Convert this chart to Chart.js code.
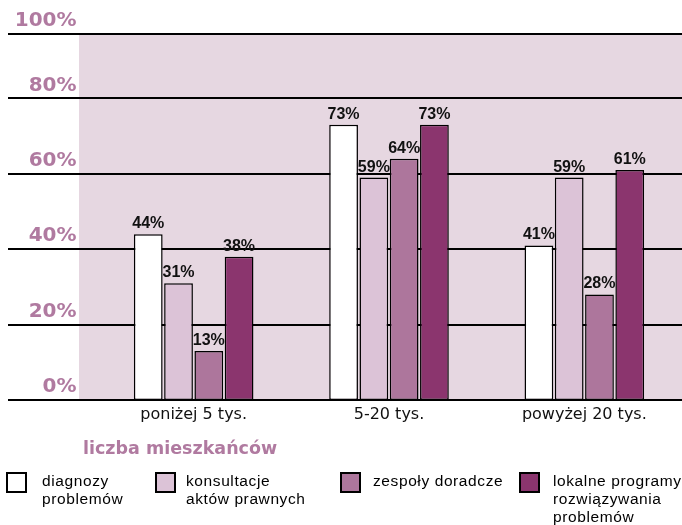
<!DOCTYPE html>
<html>
<head>
<meta charset="utf-8">
<script src="https://cdn.jsdelivr.net/npm/chart.js@4/dist/chart.umd.min.js"></script>
<style>
  html, body { margin: 0; padding: 0; background: #ffffff; }
  #wrap { position: relative; width: 682px; height: 525px; overflow: hidden; }
  #c { position: absolute; left: 0; top: 0; }
  #axisTitle { position: absolute; left: 83px; top: 438px; font: bold 17.5px "DejaVu Sans", sans-serif; line-height: 20px; color: #b07aa0; white-space: nowrap; }
  .lg { position: absolute; top: 472px; }
  .lg .box { position: absolute; left: 0; top: 0; width: 21px; height: 21px; box-sizing: border-box; border: 2px solid #000; }
  .lg .txt { position: absolute; top: 0; font: 15.5px "Liberation Sans", Arial, sans-serif; letter-spacing: 0.6px; line-height: 18px; color: #000; white-space: nowrap; }
</style>
</head>
<body>
<div id="wrap">
  <canvas id="c" width="682" height="525"></canvas>
  <div id="axisTitle"></div>
  <div id="legend"></div>
</div>
<script>
// ---- data ----
const categories = ['poniżej 5 tys.', '5-20 tys.', 'powyżej 20 tys.'];
const seriesLines = [
  ['diagnozy', 'problemów'],
  ['konsultacje', 'aktów prawnych'],
  ['zespoły doradcze'],
  ['lokalne programy', 'rozwiązywania', 'problemów']
];
const diagnozy = [44, 73, 41];
const konsultacje = [31, 59, 59];
const zespoly = [13, 64, 28];
const lokalne = [38, 73, 61];
const yTickLabels = ['0%', '20%', '40%', '60%', '80%', '100%'];
const yTickValues = [0, 20, 40, 60, 80, 100];
const axisTitleText = 'liczba mieszkańców';

// ---- styles ----
const colors = ['#ffffff', '#dcc3d7', '#ad769c', '#8b356e'];
const pinkText = '#b07aa0';
const plotBg = '#e6d7e1';
const Y_MAX = 97.1; // visual top line of the reference

const seriesValues = [diagnozy, konsultacje, zespoly, lokalne];

const bgPlugin = {
  id: 'bgGrid',
  beforeDatasetsDraw(chart) {
    const { ctx, scales } = chart;
    const y = scales.y;
    ctx.save();
    const top = y.getPixelForValue(Y_MAX);
    const bottom = y.getPixelForValue(0);
    ctx.fillStyle = plotBg;
    ctx.fillRect(79, top, chart.width - 79, bottom - top);
    ctx.strokeStyle = '#000';
    ctx.lineWidth = 2;
    y.ticks.forEach(t => {
      const py = Math.round(y.getPixelForValue(t.value));
      ctx.beginPath();
      ctx.moveTo(8, py);
      ctx.lineTo(chart.width, py);
      ctx.stroke();
    });
    ctx.restore();
  }
};

const labelPlugin = {
  id: 'valLabels',
  afterDatasetsDraw(chart) {
    const { ctx } = chart;
    ctx.save();
    ctx.font = 'bold 16px "Liberation Sans Narrow", "Arial Narrow", sans-serif';
    ctx.fillStyle = '#111';
    ctx.textAlign = 'center';
    ctx.textBaseline = 'alphabetic';
    chart.data.datasets.forEach((ds, i) => {
      const meta = chart.getDatasetMeta(i);
      meta.data.forEach((el, j) => {
        ctx.fillText(ds.data[j] + '%', el.x, el.y - 6);
      });
    });
    ctx.restore();
  }
};

new Chart(document.getElementById('c'), {
  type: 'bar',
  data: {
    labels: categories,
    datasets: seriesValues.map((vals, i) => ({
      label: seriesLines[i].join(' '),
      data: vals,
      backgroundColor: colors[i],
      borderColor: '#000',
      borderWidth: 1.5,
      borderSkipped: false,
      barPercentage: 0.95,
      categoryPercentage: 0.62
    }))
  },
  options: {
    responsive: false,
    animation: false,
    events: [],
    layout: { padding: { top: 34, left: 0, right: -3, bottom: 0 } },
    plugins: { legend: { display: false }, tooltip: { enabled: false } },
    scales: {
      x: {
        grid: { display: false, drawTicks: false },
        border: { display: false },
        ticks: { color: '#111', font: { family: '"DejaVu Sans", sans-serif', size: 16 }, padding: 5, maxRotation: 0 },
        afterFit(s) { s.height = 125; }
      },
      y: {
        min: 0,
        max: Y_MAX,
        afterBuildTicks(s) { s.ticks = yTickValues.map(v => ({ value: Math.min(v, Y_MAX) })); },
        grid: { display: false, drawTicks: false },
        border: { display: false },
        ticks: {
          color: pinkText,
          font: { family: '"DejaVu Sans", sans-serif', size: 20, weight: 'bold' },
          padding: 19.5,
          labelOffset: -13,
          callback: (v, i) => yTickLabels[i]
        },
        afterFit(s) { s.width = 96; }
      }
    }
  },
  plugins: [bgPlugin, labelPlugin]
});

// axis title and legend (HTML text)
document.getElementById('axisTitle').textContent = axisTitleText;
const legendX = [6, 155, 340, 519];
const legendTextX = [36, 31, 33, 34];
const legend = document.getElementById('legend');
seriesLines.forEach((lines, i) => {
  const item = document.createElement('div');
  item.className = 'lg';
  item.style.left = legendX[i] + 'px';
  const box = document.createElement('div');
  box.className = 'box';
  box.style.background = colors[i];
  const txt = document.createElement('div');
  txt.className = 'txt';
  txt.style.left = legendTextX[i] + 'px';
  lines.forEach((l, k) => {
    if (k) txt.appendChild(document.createElement('br'));
    txt.appendChild(document.createTextNode(l));
  });
  item.appendChild(box);
  item.appendChild(txt);
  legend.appendChild(item);
});
</script>
</body>
</html>
